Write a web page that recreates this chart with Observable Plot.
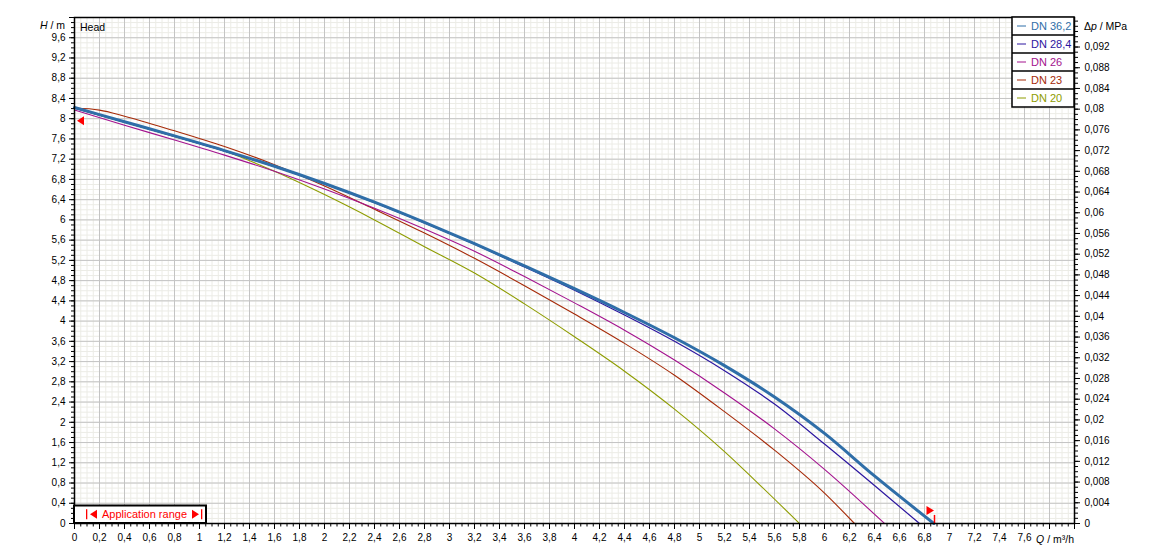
<!DOCTYPE html>
<html>
<head>
<meta charset="utf-8">
<script src="https://cdn.jsdelivr.net/npm/d3@7"></script>
<script src="https://cdn.jsdelivr.net/npm/@observablehq/plot@0.6"></script>
<style>
  html, body { margin: 0; padding: 0; background: #fff; }
  #chart svg { display: block; }
</style>
</head>
<body>
<div id="chart"></div>
<script>
// ---- Series (Q in m³/h, H in m) ----
const seriesNames = ["DN 36,2", "DN 28,4", "DN 26", "DN 23", "DN 20"];
const seriesColors = ["#2f6ea8", "#2c16a0", "#a3128e", "#a62a08", "#8e9c00"];
const seriesWidths = [3, 1.2, 1.1, 1.1, 1.1];

const qDN362 = [0, 0.4, 0.8, 1.2, 1.6, 2.0, 2.4, 2.8, 3.2, 3.6, 4.0, 4.4, 4.8, 5.2, 5.6, 6.0, 6.4, 6.875];
const hDN362 = [8.22, 7.94, 7.66, 7.37, 7.06, 6.72, 6.35, 5.95, 5.53, 5.09, 4.64, 4.17, 3.67, 3.12, 2.50, 1.78, 0.94, 0];

const qDN284 = [0, 0.4, 0.8, 1.2, 1.6, 2.0, 2.4, 2.8, 3.2, 3.6, 4.0, 4.4, 4.8, 5.2, 5.6, 6.0, 6.4, 6.76];
const hDN284 = [8.21, 7.93, 7.65, 7.36, 7.05, 6.71, 6.34, 5.94, 5.52, 5.07, 4.61, 4.12, 3.60, 3.02, 2.36, 1.57, 0.75, 0];

const qDN26 = [0, 0.4, 0.8, 1.2, 1.6, 2.0, 2.4, 2.8, 3.2, 3.6, 4.0, 4.4, 4.8, 5.2, 5.6, 6.0, 6.48];
const hDN26 = [8.17, 7.87, 7.58, 7.28, 6.96, 6.61, 6.23, 5.82, 5.38, 4.88, 4.36, 3.82, 3.23, 2.58, 1.87, 1.07, 0];

const qDN23 = [0, 0.2, 0.4, 0.8, 1.2, 1.6, 2.0, 2.4, 2.8, 3.2, 3.6, 4.0, 4.4, 4.8, 5.2, 5.6, 6.0, 6.24];
const hDN23 = [8.21, 8.17, 8.05, 7.76, 7.45, 7.09, 6.67, 6.21, 5.74, 5.24, 4.70, 4.14, 3.56, 2.93, 2.21, 1.45, 0.60, 0];

const qDN20 = [0, 0.4, 0.8, 1.2, 1.6, 2.0, 2.4, 2.8, 3.2, 3.6, 4.0, 4.4, 4.8, 5.2, 5.5, 5.8];
const hDN20 = [8.21, 7.93, 7.65, 7.36, 6.96, 6.50, 6.00, 5.47, 4.95, 4.34, 3.69, 3.01, 2.26, 1.42, 0.72, 0];

const seriesQ = [qDN362, qDN284, qDN26, qDN23, qDN20];
const seriesH = [hDN362, hDN284, hDN26, hDN23, hDN20];

// Application range markers
const rangeStartQ = [0];
const rangeStartH = [7.96];
const rangeEndQ = [6.88];
const rangeEndH = [0];

// ---- Axes / ticks ----
const mpaPerMetre = 0.00977;
const xMajorTicks = d3.range(0, 41).map(i => +(i * 0.2).toFixed(2));        // 0 … 8
const xMinorTicks = d3.range(0, 161).map(i => +(i * 0.05).toFixed(2));      // 0 … 8
const yMajorTicks = d3.range(0, 26).map(i => +(i * 0.4).toFixed(2));        // 0 … 10
const yMinorTicks = d3.range(0, 101).map(i => +(i * 0.1).toFixed(2));       // 0 … 10
const pMajorTicks = d3.range(0, 24).map(i => +(i * 0.004).toFixed(3));      // 0 … 0.092 MPa
const pMinorTicks = d3.range(0, 98).map(i => +(i * 0.001).toFixed(3));      // 0 … 0.097 MPa
const xTickLabelMax = 7.6;
const yTickLabelMax = 9.6;

const comma = v => String(+v.toFixed(3)).replace(".", ",");

const triLeft = { draw(c) { c.moveTo(-3.5, 0); c.lineTo(3.5, -4.5); c.lineTo(3.5, 4.5); c.closePath(); } };
const flag = { draw(c) { c.moveTo(-8, -17.5); c.lineTo(-0.5, -13); c.lineTo(-8, -8.5); c.closePath(); } };

const lineMarks = [];
for (let i = seriesQ.length - 1; i >= 0; i--) {
  lineMarks.push(Plot.line(seriesH[i], {
    x: seriesQ[i], y: seriesH[i],
    stroke: seriesColors[i], strokeWidth: seriesWidths[i], curve: "monotone-x"
  }));
}

const chart = Plot.plot({
  width: 1149,
  height: 559,
  marginLeft: 74,
  marginRight: 75,
  marginTop: 17,
  marginBottom: 36,
  x: { domain: [0, 8] },
  y: { domain: [0, 10] },
  style: { fontFamily: "'Liberation Sans', Arial, sans-serif", fontSize: "10px", color: "#000", background: "#fff", overflow: "visible" },
  marks: [
    Plot.gridX(xMinorTicks, { stroke: "#ecece6", strokeOpacity: 1 }),
    Plot.gridY(yMinorTicks, { stroke: "#ecece6", strokeOpacity: 1 }),
    Plot.gridX(xMajorTicks, { stroke: "#c4c4c4", strokeOpacity: 1 }),
    Plot.gridY(yMajorTicks, { stroke: "#c4c4c4", strokeOpacity: 1 }),
    ...lineMarks,
    Plot.dot(rangeStartH, { x: rangeStartQ, y: rangeStartH, symbol: triLeft, fill: "#ff0000", stroke: null, dx: 6 }),
    Plot.dot(rangeEndH, { x: rangeEndQ, y: rangeEndH, symbol: flag, fill: "#ff0000", stroke: null }),
    Plot.ruleX(rangeEndQ, { y1: 0, y2: 0.16, stroke: "#ff0000", strokeWidth: 1.5 }),
    Plot.frame({ stroke: "#000", strokeWidth: 1.5 }),
    Plot.axisX(xMinorTicks, { anchor: "bottom", tickSize: 3.5, tickFormat: () => "", label: null }),
    Plot.axisX(xMajorTicks, { anchor: "bottom", tickSize: 6, tickPadding: 4, fontSize: 10, label: null,
      tickFormat: d => d > xTickLabelMax + 1e-6 ? "" : comma(d) }),
    Plot.axisY(yMinorTicks, { anchor: "left", tickSize: 3, tickFormat: () => "", label: null }),
    Plot.axisY(yMajorTicks, { anchor: "left", tickSize: 5, tickPadding: 4, fontSize: 10, label: null,
      tickFormat: d => d > yTickLabelMax + 1e-6 ? "" : comma(d) }),
    Plot.axisY(pMinorTicks.map(p => p / mpaPerMetre), { anchor: "right", tickSize: 3, tickFormat: () => "", label: null }),
    Plot.axisY(pMajorTicks.map(p => p / mpaPerMetre), { anchor: "right", tickSize: 5, tickPadding: 5, fontSize: 10, label: null,
      tickFormat: h => comma(Math.round(h * mpaPerMetre * 1000) / 1000) })
  ]
});

document.getElementById("chart").appendChild(chart);

// ---- Annotations: axis titles, legend box, application range box ----
(function annotate() {
  const svg = d3.select(chart);
  const font = "'Liberation Sans', Arial, sans-serif";
  const xS = chart.scale("x"), yS = chart.scale("y");
  const pL = xS.range[0], pR = xS.range[1], pT = yS.range[1], pB = yS.range[0];
  const yPx = v => pB + (pT - pB) * (v - yS.domain[0]) / (yS.domain[1] - yS.domain[0]);
  const txt = (sel) => sel.attr("font-family", font).attr("text-anchor", "start");

  // Left axis title
  const hT = txt(svg.append("text")).attr("x", pL - 9).attr("y", pT + 12)
    .attr("text-anchor", "end").attr("font-size", 10.5).attr("fill", "#000");
  hT.append("tspan").attr("font-style", "italic").text("H");
  hT.append("tspan").text(" / m");

  // "Head"
  txt(svg.append("text")).attr("x", pL + 6).attr("y", pT + 14)
    .attr("font-size", 10.5).attr("fill", "#000").text("Head");

  // Right axis title
  const dT = txt(svg.append("text")).attr("x", pR + 10).attr("y", yPx(0.096 / mpaPerMetre) + 4)
    .attr("font-size", 10.5).attr("fill", "#000");
  dT.append("tspan").text("Δ");
  dT.append("tspan").attr("font-style", "italic").text("p");
  dT.append("tspan").text(" / MPa");

  // x axis title
  const qT = txt(svg.append("text")).attr("x", pR).attr("y", pB + 20)
    .attr("text-anchor", "end").attr("font-size", 10.5).attr("fill", "#000");
  qT.append("tspan").attr("font-style", "italic").text("Q");
  qT.append("tspan").text(" / m³/h");

  // Legend box (top right, inside plot)
  const rowH = 18, lgX0 = pR - 62;
  const lg = svg.append("g");
  lg.append("rect").attr("x", lgX0).attr("y", pT).attr("width", pR - lgX0).attr("height", rowH * seriesNames.length)
    .attr("fill", "#fff").attr("stroke", "#000").attr("stroke-width", 1.5);
  seriesNames.forEach((name, i) => {
    const y0 = pT + i * rowH;
    if (i > 0) lg.append("line").attr("x1", lgX0).attr("x2", pR).attr("y1", y0).attr("y2", y0)
      .attr("stroke", "#000").attr("stroke-width", 1.5);
    lg.append("line").attr("x1", lgX0 + 5).attr("x2", lgX0 + 14).attr("y1", y0 + rowH / 2).attr("y2", y0 + rowH / 2)
      .attr("stroke", seriesColors[i]).attr("stroke-width", 1);
    txt(lg.append("text")).attr("x", lgX0 + 19).attr("y", y0 + rowH / 2 + 4)
      .attr("font-size", 11).attr("fill", seriesColors[i]).text(name);
  });

  // Application range box (bottom left)
  const ar = svg.append("g");
  const arW = 132, arH = 17.5;
  ar.append("rect").attr("x", pL).attr("y", pB - arH).attr("width", arW).attr("height", arH)
    .attr("fill", "#fff").attr("stroke", "#000").attr("stroke-width", 2);
  const cy = pB - arH / 2;
  ar.append("rect").attr("x", pL + 12).attr("y", cy - 5).attr("width", 1.3).attr("height", 10).attr("fill", "#ff0000");
  ar.append("path").attr("d", `M${pL + 16},${cy} L${pL + 23},${cy - 4.5} L${pL + 23},${cy + 4.5} Z`).attr("fill", "#ff0000");
  txt(ar.append("text")).attr("x", pL + 28).attr("y", cy + 4)
    .attr("font-size", 11).attr("fill", "#ff0000").text("Application range");
  ar.append("path").attr("d", `M${pL + 118},${cy - 4.5} L${pL + 125},${cy} L${pL + 118},${cy + 4.5} Z`).attr("fill", "#ff0000");
  ar.append("rect").attr("x", pL + 127).attr("y", cy - 5).attr("width", 1.3).attr("height", 10).attr("fill", "#ff0000");
})();
</script>
</body>
</html>
